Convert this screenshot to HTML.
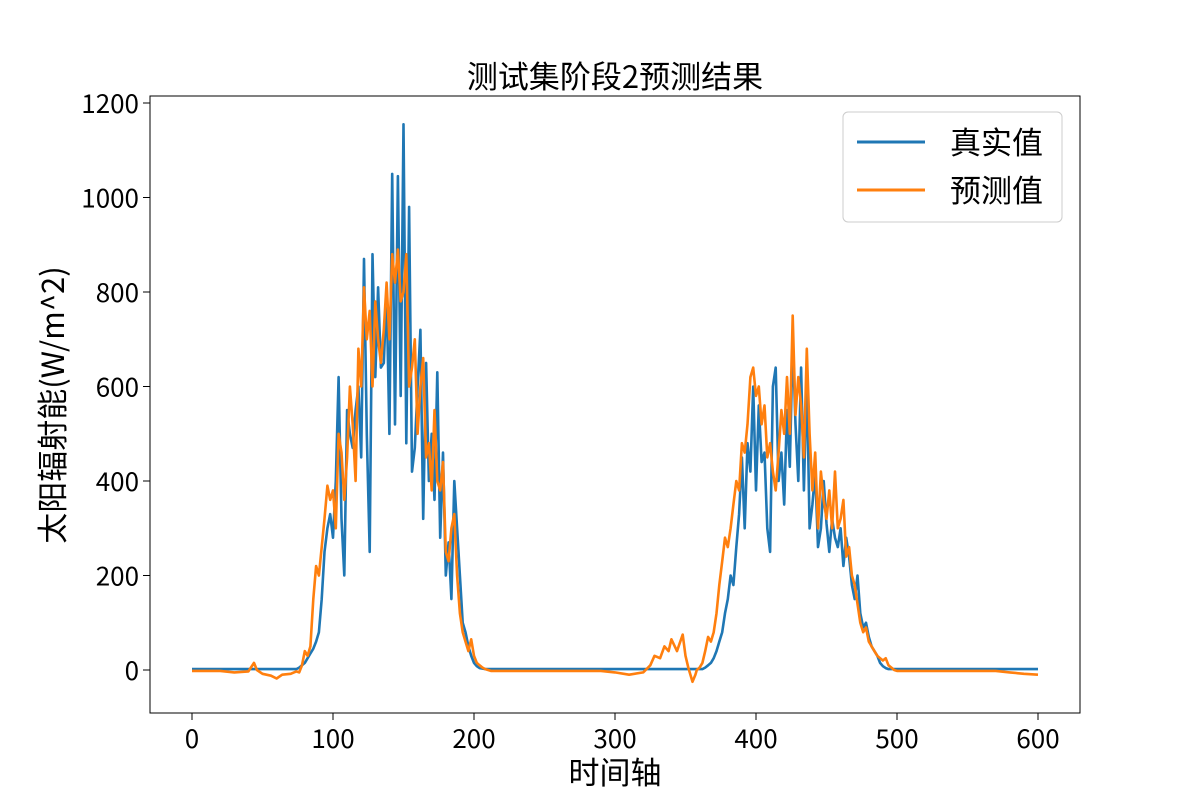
<!DOCTYPE html>
<html><head><meta charset="utf-8"><style>
body{margin:0;background:#fff;}
svg text{font-family:"Noto Sans CJK SC","Liberation Sans",sans-serif;fill:#000;}
</style></head><body>
<svg id="chart" width="1200" height="800" xmlns="http://www.w3.org/2000/svg">
<rect x="0" y="0" width="1200" height="800" fill="#fff"/>
<text x="615" y="88" font-size="31" text-anchor="middle">测试集阶段2预测结果</text>
<text x="615" y="784" font-size="31" text-anchor="middle">时间轴</text>
<text transform="translate(64,405) rotate(-90)" font-size="31" text-anchor="middle">太阳辐射能(W/m^2)</text>
<g id="plot"></g>
<rect x="150" y="96" width="930" height="617" fill="none" stroke="#000" stroke-width="1"/>
<g>
<rect x="843" y="112" width="219" height="110" rx="5" fill="#fff" fill-opacity="0.8" stroke="#ccc"/>
<g><line x1="857" y1="142" x2="925" y2="142" stroke="#1f77b4" stroke-width="3"/><text x="950" y="154" font-size="31">真实值</text></g>
<g><line x1="857" y1="190" x2="925" y2="190" stroke="#ff7f0e" stroke-width="3"/><text x="950" y="202" font-size="31">预测值</text></g>
</g>
</svg>
<script>
const timeSteps=[0,20,30,40,44,46,50,56,60,64,70,74,
76,78,80,82,84,86,88,90,92,94,96,98,100,102,104,106,108,110,112,114,116,118,120,122,124,126,128,130,132,134,136,138,140,142,144,146,148,150,152,154,156,158,160,162,164,166,168,170,172,174,176,178,180,182,184,186,188,190,192,194,196,198,200,202,204,206,208,210,212,214,
216,290,300,310,320,325,328,332,335,338,340,344,348,350,352,355,357,358,
360,362,364,366,368,370,372,374,376,378,380,382,384,386,388,390,392,394,396,398,400,402,404,406,408,410,412,414,416,418,420,422,424,426,428,430,432,434,436,438,440,442,444,446,448,450,452,454,456,458,460,462,464,466,468,470,472,474,476,478,480,482,484,486,488,490,492,494,496,498,500,
502,570,580,590,600];
const actual=[2,2,2,2,2,2,2,2,2,2,2,2,
5,10,15,25,35,45,60,80,150,250,300,330,280,400,620,320,200,550,500,470,550,600,450,870,500,250,880,620,810,640,650,800,500,1050,520,1045,580,1155,480,980,420,470,600,720,320,650,400,500,360,630,280,460,200,270,150,400,300,200,100,80,50,30,15,8,4,3,2,2,2,2,
2,2,2,2,2,2,2,2,2,2,2,2,2,2,2,2,2,2,
2,2,5,10,15,25,40,60,80,120,150,200,180,260,330,450,300,480,420,600,380,560,440,460,300,250,600,640,400,460,350,550,430,700,520,400,640,380,620,300,350,420,260,300,400,310,250,320,280,260,300,220,280,240,180,150,200,120,90,100,70,50,40,30,15,8,4,2,2,2,2,
2,2,2,2,2];
const predicted=[-2,-2,-5,-3,15,0,-8,-12,-18,-10,-8,-3,
-5,10,40,30,50,150,220,200,260,320,390,360,380,300,500,460,360,450,600,520,400,680,600,810,700,760,600,780,700,650,720,820,700,880,820,890,780,800,880,600,640,700,500,600,660,450,480,380,550,400,380,440,250,230,300,330,200,120,80,60,40,65,30,15,10,5,2,0,-2,-2,
-2,-2,-5,-10,-5,10,30,25,50,40,65,40,75,30,5,-25,-10,0,
5,15,40,70,60,80,120,180,230,280,260,300,350,400,380,480,460,520,620,640,580,600,520,560,450,480,420,380,460,550,500,620,500,750,540,620,560,450,680,500,380,460,300,420,360,320,380,300,420,300,320,360,240,260,200,180,140,100,80,90,60,50,40,30,25,20,25,10,5,0,-2,
-2,-2,-5,-8,-10];
const xTicks=[0,100,200,300,400,500,600];
const yTicks=[0,200,400,600,800,1000,1200];
const NS="http://www.w3.org/2000/svg";
const xs=v=>192+v*(1038-192)/600;
const ys=v=>670-v*(670-103)/1200;
const g=document.getElementById('plot');
function mk(t,a){const e=document.createElementNS(NS,t);for(const k in a)e.setAttribute(k,a[k]);g.appendChild(e);return e;}
xTicks.forEach(t=>{
 const l=mk('line',{x1:xs(t),x2:xs(t),y1:713,y2:720,stroke:'#000'});
 
 
 const tx=mk('text',{x:xs(t),y:748,'font-size':26,'text-anchor':'middle'});tx.textContent=t;
 
 
});
yTicks.forEach(t=>{
 const l=mk('line',{x1:143,x2:150,y1:ys(t),y2:ys(t),stroke:'#000'});
 
 
 const tx=mk('text',{x:139,y:ys(t)+10,'font-size':26,'text-anchor':'end'});tx.textContent=t;
 
 
});
function series(vals,color,name){
 const d=vals.map((v,i)=>(i?'L':'M')+xs(timeSteps[i]).toFixed(1)+','+ys(v).toFixed(1)).join('');
 const p=mk('path',{d:d,fill:'none',stroke:color,'stroke-width':2.6,'stroke-linejoin':'round'});
 
 
}
series(actual,'#1f77b4','actual-line');
series(predicted,'#ff7f0e','predicted-line');
</script>
</body></html>
